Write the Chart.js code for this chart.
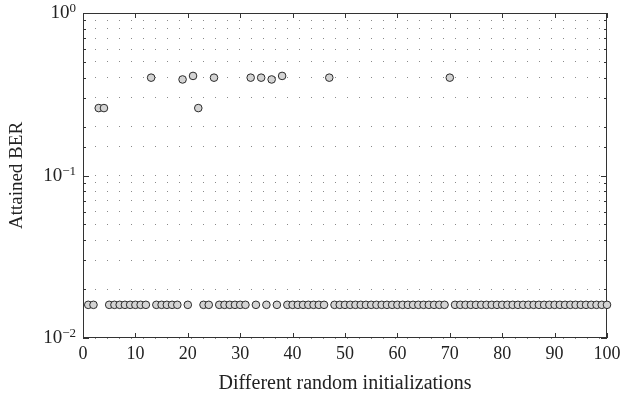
<!DOCTYPE html>
<html>
<head>
<meta charset="utf-8">
<script src="https://cdn.jsdelivr.net/npm/chart.js@4/dist/chart.umd.min.js"></script>
<style>
  html, body { margin: 0; padding: 0; background: #fff; }
  canvas { display: block; }
</style>
</head>
<body>
<canvas id="c" width="624" height="402"></canvas>
<script>
// Run index (random initialization) and the BER each run reached
const runs = [
  1, 2, 3, 4, 5, 6, 7, 8, 9, 10,
  11, 12, 13, 14, 15, 16, 17, 18, 19, 20,
  21, 22, 23, 24, 25, 26, 27, 28, 29, 30,
  31, 32, 33, 34, 35, 36, 37, 38, 39, 40,
  41, 42, 43, 44, 45, 46, 47, 48, 49, 50,
  51, 52, 53, 54, 55, 56, 57, 58, 59, 60,
  61, 62, 63, 64, 65, 66, 67, 68, 69, 70,
  71, 72, 73, 74, 75, 76, 77, 78, 79, 80,
  81, 82, 83, 84, 85, 86, 87, 88, 89, 90,
  91, 92, 93, 94, 95, 96, 97, 98, 99, 100
];
const ber = [
  0.016, 0.016, 0.26, 0.26, 0.016, 0.016, 0.016, 0.016, 0.016, 0.016,
  0.016, 0.016, 0.40, 0.016, 0.016, 0.016, 0.016, 0.016, 0.39, 0.016,
  0.41, 0.26, 0.016, 0.016, 0.40, 0.016, 0.016, 0.016, 0.016, 0.016,
  0.016, 0.40, 0.016, 0.40, 0.016, 0.39, 0.016, 0.41, 0.016, 0.016,
  0.016, 0.016, 0.016, 0.016, 0.016, 0.016, 0.40, 0.016, 0.016, 0.016,
  0.016, 0.016, 0.016, 0.016, 0.016, 0.016, 0.016, 0.016, 0.016, 0.016,
  0.016, 0.016, 0.016, 0.016, 0.016, 0.016, 0.016, 0.016, 0.016, 0.40,
  0.016, 0.016, 0.016, 0.016, 0.016, 0.016, 0.016, 0.016, 0.016, 0.016,
  0.016, 0.016, 0.016, 0.016, 0.016, 0.016, 0.016, 0.016, 0.016, 0.016,
  0.016, 0.016, 0.016, 0.016, 0.016, 0.016, 0.016, 0.016, 0.016, 0.016
];
const xMin = 0, xMax = 100, xStep = 10;
const yMin = 0.01, yMax = 1;
const xTitle = 'Different random initializations';
const yTitle = 'Attained BER';

const FONT = '"Liberation Serif", "Times New Roman", serif';
const INK = '#222';
const AXIS = '#333';

// box, inward ticks and 10^k labels, matlab style
const boxPlugin = {
  id: 'box',
  beforeDatasetsDraw(chart) {
    const { ctx, chartArea: a } = chart;
    const xs = chart.scales.x, ys = chart.scales.y;
    ctx.save();
    ctx.strokeStyle = AXIS;
    ctx.lineWidth = 1;
    ctx.strokeRect(a.left + 0.5, a.top + 0.5, a.right - a.left - 1, a.bottom - a.top - 1);
    ctx.beginPath();
    xs.ticks.forEach(t => {
      const px = Math.round(xs.getPixelForValue(t.value)) + 0.5;
      ctx.moveTo(px, a.bottom); ctx.lineTo(px, a.bottom - 5);
      ctx.moveTo(px, a.top); ctx.lineTo(px, a.top + 5);
    });
    ys.ticks.forEach(t => {
      const py = Math.round(ys.getPixelForValue(t.value)) + 0.5;
      const major = Math.abs(Math.log10(t.value) - Math.round(Math.log10(t.value))) < 1e-9;
      const len = major ? 6 : 3;
      ctx.moveTo(a.left, py); ctx.lineTo(a.left + len, py);
      ctx.moveTo(a.right, py); ctx.lineTo(a.right - len, py);
    });
    ctx.stroke();

    // y labels 10^k with a raised exponent
    ctx.fillStyle = INK;
    ctx.textBaseline = 'alphabetic';
    ctx.textAlign = 'left';
    ys.ticks.forEach(t => {
      const e = Math.log10(t.value);
      if (Math.abs(e - Math.round(e)) > 1e-9) return;
      const py = ys.getPixelForValue(t.value);
      const exp = String(Math.round(e)).replace('-', '\u2212');
      ctx.font = '13px ' + FONT;
      const ew = ctx.measureText(exp).width;
      ctx.font = '19px ' + FONT;
      const bw = ctx.measureText('10').width;
      const right = a.left - 7;
      ctx.fillText('10', right - ew - bw, py + 5);
      ctx.font = '13px ' + FONT;
      ctx.fillText(exp, right - ew, py - 1);
    });
    ctx.restore();
  }
};

new Chart(document.getElementById('c'), {
  type: 'scatter',
  data: {
    datasets: [{
      data: runs.map((r, i) => ({ x: r, y: ber[i] })),
      pointRadius: 3.8,
      pointBackgroundColor: '#d4d4d4',
      pointBorderColor: '#2a2a2a',
      pointBorderWidth: 1,
      clip: false
    }]
  },
  options: {
    responsive: false,
    animation: false,
    layout: { padding: { top: 13, right: 17, left: 0, bottom: 0 } },
    plugins: { legend: { display: false }, tooltip: { enabled: false } },
    scales: {
      x: {
        type: 'linear',
        min: xMin, max: xMax,
        afterFit: s => { s.height = 64; },
        ticks: { stepSize: xStep, color: INK, font: { family: FONT, size: 18 }, padding: -3, maxRotation: 0 },
        grid: { display: false },
        border: { display: false },
        title: { display: true, text: xTitle, color: INK, font: { family: FONT, size: 20 }, padding: { top: 4, bottom: 6 } }
      },
      y: {
        type: 'logarithmic',
        min: yMin, max: yMax,
        afterFit: s => { s.width = 83; },
        ticks: { display: false },
        grid: { color: '#8a8a8a', lineWidth: 1, drawTicks: false },
        border: { display: false, dash: [1, 11], dashOffset: 0 },
        title: { display: true, text: yTitle, color: INK, font: { family: FONT, size: 19 }, padding: { top: 6, bottom: 0 } }
      }
    }
  },
  plugins: [boxPlugin]
});
</script>
</body>
</html>
